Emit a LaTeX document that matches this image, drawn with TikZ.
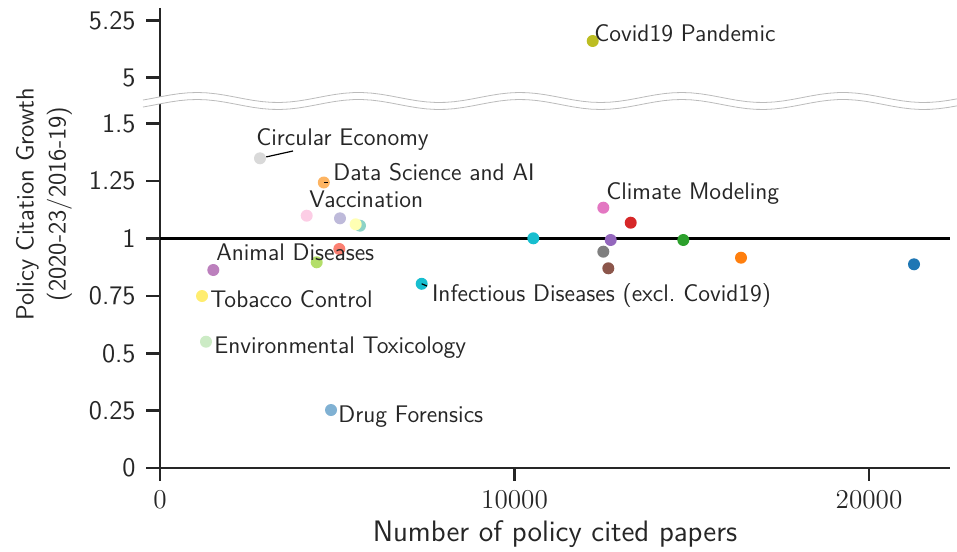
\documentclass[tikz,border=0pt]{standalone}
\usepackage{fontspec}
\usepackage{xcolor}
\usepackage{tikz}
\definecolor{axisGray}{HTML}{262626}
\definecolor{breakGray}{HTML}{BBBBBB}
% tab10
\definecolor{tabBlue}{HTML}{1F77B4}
\definecolor{tabOrange}{HTML}{FF7F0E}
\definecolor{tabGreen}{HTML}{2CA02C}
\definecolor{tabRed}{HTML}{D62728}
\definecolor{tabPurple}{HTML}{9467BD}
\definecolor{tabBrown}{HTML}{8C564B}
\definecolor{tabPink}{HTML}{E377C2}
\definecolor{tabGray}{HTML}{7F7F7F}
\definecolor{tabOlive}{HTML}{BCBD22}
\definecolor{tabCyan}{HTML}{17BECF}
% set3
\definecolor{setTeal}{HTML}{8DD3C7}
\definecolor{setYellow}{HTML}{FFFFB3}
\definecolor{setLav}{HTML}{BEBADA}
\definecolor{setSalmon}{HTML}{FB8072}
\definecolor{setBlue}{HTML}{80B1D3}
\definecolor{setOrange}{HTML}{FDB462}
\definecolor{setGreen}{HTML}{B3DE69}
\definecolor{setPink}{HTML}{FCCDE5}
\definecolor{setGray}{HTML}{D9D9D9}
\definecolor{setPurple}{HTML}{BC80BD}
\definecolor{setMint}{HTML}{CCEBC5}
\definecolor{setGold}{HTML}{FFED6F}

\tikzset{
  axisline/.style={draw=axisGray, line width=1.3pt},
  refline/.style={draw=black, line width=1.7pt},
  dot/.style={circle, inner sep=0pt, minimum size=6pt},
  lbl/.style={anchor=base west, inner sep=0pt, text=axisGray, font=\sffamily\fontsize{12}{14}\selectfont},
  ticklbl/.style={text=axisGray, inner sep=0pt, font=\sffamily\fontsize{13.4}{16}\selectfont},
  leader/.style={draw=black, line width=0.6pt}
}

\begin{document}
\begin{tikzpicture}[x=0.5pt,y=-0.5pt]
  \useasboundingbox (0,0) rectangle (957,551);
  \def\ylo{468}\def\sy{229.5}\def\yup{77.7}
  % axes
  \draw[axisline] (160,8) -- (160,\ylo) -- (950,\ylo);
  \foreach \v [count=\i] in {0,0.25,0.5,0.75,1,1.25,1.5} {
    \draw[axisline] (146,\ylo-\sy*\v) -- (160,\ylo-\sy*\v);
    \node[ticklbl, anchor=east] (ylo\i) at (136,\ylo-\sy*\v) {\v};
  }
  \foreach \v [count=\i] in {5,5.25} {
    \draw[axisline] (146,\yup-\sy*\v+\sy*5) -- (160,\yup-\sy*\v+\sy*5);
    \node[ticklbl, anchor=east] (yup\i) at (136,\yup-\sy*\v+\sy*5) {\v};
  }
  \foreach \k/\v [count=\i] in {0/0,10/10000,20/20000} {
    \draw[axisline] (160+35.45*\k,\ylo) -- (160+35.45*\k,481);
    \node[ticklbl, font=\rmfamily\fontsize{13.6}{16}\selectfont] (xt\i) at (160+35.45*\k,500) {\v};
  }
  % axis break
  \fill[white] plot[domain=143:957,samples=90] (\x,{97.5-5*cos(2.2291*(\x-197))})
    -- plot[domain=957:143,samples=90] (\x,{104.5-5*cos(2.2291*(\x-197))}) -- cycle;
  \draw[breakGray, line width=0.4pt] plot[domain=143:957,samples=90] (\x,{97.5-5*cos(2.2291*(\x-197))});
  \draw[breakGray, line width=0.4pt] plot[domain=143:957,samples=90] (\x,{104.5-5*cos(2.2291*(\x-197))});
  % growth = 1
  \draw[refline] (160,\ylo-\sy) -- (950,\ylo-\sy);
  % axis labels
  \node[anchor=base, text=axisGray, font=\sffamily\fontsize{14.8}{18}\selectfont] (xlab) at (555,541.5) {Number of policy cited papers};
  \node[text=axisGray, rotate=90, align=center, font=\sffamily\fontsize{12.5}{16}\selectfont] (ylab) at (44,204) {Policy Citation Growth\\(2020-23/2016-19)};
  % set3 fields
  \node[dot, fill=setGold] (dTob) at (202,296) {};
  \node[dot, fill=setMint] (dEnv) at (206,341.7) {};
  \node[dot, fill=setPurple] (dAni) at (213.3,270) {};
  \node[dot, fill=setGray] (dCirc) at (260,158.3) {};
  \node[dot, fill=setPink] (dVac) at (306.7,215.7) {};
  \node[dot, fill=setGreen] (dGrn) at (316.7,262.3) {};
  \node[dot, fill=setOrange] (dData) at (323.8,182.5) {};
  \node[dot, fill=setBlue] (dDrug) at (331,410) {};
  \node[dot, fill=setSalmon] (dSal) at (339.3,249) {};
  \node[dot, fill=setLav] (dLav) at (340,218.3) {};
  \node[dot, fill=setTeal] (dTeal) at (360,225.7) {};
  \node[dot, fill=setYellow] (dYel) at (355.7,224.3) {};
  % tab10 fields
  \node[dot, fill=tabCyan] (dInf) at (421.7,283.8) {};
  \node[dot, fill=tabCyan] (dCyan) at (533.3,238.3) {};
  \node[dot, fill=tabOlive] (dCov) at (592.7,41) {};
  \node[dot, fill=tabPink] (dClim) at (603.3,207.7) {};
  \node[dot, fill=tabGray] (dGray) at (603.3,251.7) {};
  \node[dot, fill=tabBrown] (dBrown) at (608.3,268.3) {};
  \node[dot, fill=tabPurple] (dPurp) at (610.7,240) {};
  \node[dot, fill=tabRed] (dRed) at (630.7,222.7) {};
  \node[dot, fill=tabGreen] (dGreen) at (683.3,240) {};
  \node[dot, fill=tabOrange] (dOrange) at (741,257.7) {};
  \node[dot, fill=tabBlue] (dBlue) at (914,264.3) {};
  % leaders
  \coordinate (cCirc) at (293,151);
  \coordinate (cData) at (327.5,182.5);
  \coordinate (cInf) at (427,286);
  \draw[leader] (dCirc) -- (cCirc);
  \draw[leader] (dData.center) -- (cData);
  \draw[leader] (dInf.center) -- (cInf);
  % labels
  \node[lbl] (tCirc) at (256,145) {Circular Economy};
  \node[lbl] (tData) at (333,180) {Data Science and AI};
  \node[lbl] (tVac) at (309,207.3) {Vaccination};
  \node[lbl] (tAni) at (216,260.7) {Animal Diseases};
  \node[lbl] (tTob) at (210,307.7) {Tobacco Control};
  \node[lbl] (tEnv) at (214,353.3) {Environmental Toxicology};
  \node[lbl] (tDrug) at (338,422.7) {Drug Forensics};
  \node[lbl] (tInf) at (431.7,301.7) {Infectious Diseases (excl.\ Covid19)};
  \node[lbl] (tCov) at (594,41.7) {Covid19 Pandemic};
  \node[lbl] (tClim) at (606,199) {Climate Modeling};
\end{tikzpicture}
\end{document}
